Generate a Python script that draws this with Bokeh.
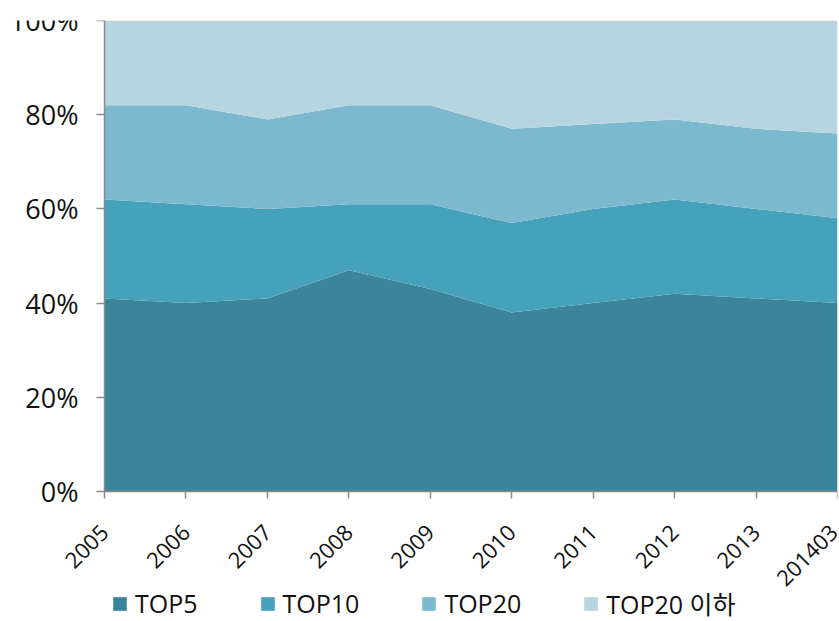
import math

from bokeh.embed import file_html
from bokeh.resources import INLINE
from bokeh.plotting import figure
from bokeh.models import (ColumnDataSource, Range1d, FixedTicker, NumeralTickFormatter,
                          Legend, LegendItem)

# Market share by rank group (%, stacked to 100)
periods = ["2005", "2006", "2007", "2008", "2009", "2010", "2011", "2012", "2013", "201403"]
top5 = [41, 40, 41, 47, 43, 38, 40, 42, 41, 40]
top10 = [21, 21, 19, 14, 18, 19, 20, 20, 19, 18]
top20 = [20, 21, 19, 21, 21, 20, 18, 17, 17, 18]
below20 = [18, 18, 21, 18, 18, 23, 22, 21, 23, 24]

series_names = ["TOP5", "TOP10", "TOP20", "TOP20 이하"]
series_keys = ["top5", "top10", "top20", "below20"]
colors = ["#3A8599", "#46A1BA", "#7CB9CF", "#B7D5E0"]

x = list(range(len(periods)))
source = ColumnDataSource(dict(
    x=x,
    top5=[v / 100 for v in top5],
    top10=[v / 100 for v in top10],
    top20=[v / 100 for v in top20],
    below20=[v / 100 for v in below20],
))

# The frame covers the whole page below the top margin: the strip left of the
# first year holds the percentage labels and the strip under 0% holds the
# rotated year labels and the legend, so both axes are pinned at 0.
FRAME_W = 837
PLOT_W = 733
FRAME_H = 601
PLOT_H = 471
n_steps = len(periods) - 1
x_min = -(FRAME_W - PLOT_W) * n_steps / PLOT_W
y_min = -(FRAME_H - PLOT_H) / PLOT_H

p = figure(frame_width=FRAME_W, frame_height=FRAME_H, output_backend="svg",
           toolbar_location=None,
           x_range=Range1d(x_min, n_steps), y_range=Range1d(y_min, 1),
           min_border_left=0, min_border_right=2, min_border_top=20,
           min_border_bottom=0)

renderers = p.varea_stack(stackers=series_keys, x="x", color=colors, source=source)

p.xgrid.visible = False
p.ygrid.visible = False
p.outline_line_color = None
p.background_fill_color = "white"
p.border_fill_color = "white"

axis_color = "#8A8A8A"
tick_font = "'Open Sans'"

p.yaxis.fixed_location = 0
p.yaxis.ticker = FixedTicker(ticks=[0, 0.2, 0.4, 0.6, 0.8, 1.0])
p.yaxis.bounds = (0, 1)
p.yaxis.formatter = NumeralTickFormatter(format="0%")
p.yaxis.major_label_text_font = tick_font
p.yaxis.major_label_text_font_size = "27px"
p.yaxis.major_label_text_color = "#111111"
p.yaxis.major_tick_in = 0
p.yaxis.major_tick_out = 8
p.yaxis.minor_tick_line_color = None
p.yaxis.axis_line_color = axis_color
p.yaxis.axis_line_width = 1.5
p.yaxis.major_tick_line_color = axis_color
p.yaxis.major_tick_line_width = 1.5
p.yaxis.major_label_standoff = 18

p.xaxis.fixed_location = 0
p.xaxis.ticker = FixedTicker(ticks=x)
p.xaxis.bounds = (0, n_steps)
p.xaxis.major_label_overrides = {i: lab for i, lab in enumerate(periods)}
p.xaxis.major_label_orientation = math.pi / 4
p.xaxis.major_label_text_font = tick_font
p.xaxis.major_label_text_font_size = "22px"
p.xaxis.major_label_text_color = "#111111"
p.xaxis.major_tick_in = 0
p.xaxis.major_tick_out = 7
p.xaxis.minor_tick_line_color = None
p.xaxis.axis_line_color = axis_color
p.xaxis.axis_line_width = 1.5
p.xaxis.major_tick_line_color = axis_color
p.xaxis.major_tick_line_width = 1.5
p.xaxis.major_label_standoff = 30

legend = Legend(
    items=[LegendItem(label=name, renderers=[r]) for name, r in zip(series_names, renderers)],
    orientation="horizontal",
    location=(111, 0),
    label_text_font="'Open Sans', 'Noto Sans CJK KR'",
    label_text_font_size="25px",
    label_text_color="#111111",
    glyph_width=17,
    glyph_height=17,
    label_standoff=7,
    spacing=61,
    padding=0,
    margin=0,
    border_line_color=None,
    background_fill_alpha=0,
)
p.add_layout(legend, "center")

open("out.html", "w").write(file_html(p, INLINE))
